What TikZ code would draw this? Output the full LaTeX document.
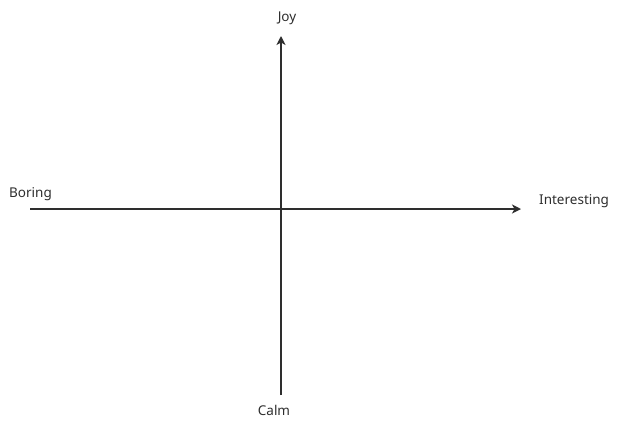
\documentclass[tikz,border=0pt]{standalone}
\usepackage{fontspec}
\setmainfont{Noto Sans}
\usetikzlibrary{arrows.meta}
\definecolor{axisgray}{HTML}{2E2E2E}
\begin{document}
\begin{tikzpicture}[x=1pt,y=-1pt,
  axis/.style={draw=axisgray,line width=1.4pt,-{Stealth[length=9pt,width=9pt,inset=2.5pt]}},
  lbl/.style={font=\fontsize{13.5}{15}\selectfont,text=axisgray,inner sep=0pt}]
\useasboundingbox (0,0) rectangle (619,429);
\fill[white] (0,0) rectangle (619,429);
\coordinate (vstart) at (281,395);
\coordinate (vend) at (281,36);
\coordinate (hstart) at (30,209);
\coordinate (hend) at (521,209);
\draw[axis] (vstart) -- (vend);
\draw[axis] (hstart) -- (hend);
\node[lbl] (joy) at (287,18) {Joy};
\node[lbl] (calm) at (274,410) {Calm};
\node[lbl,anchor=west] (boring) at (9,194) {Boring};
\node[lbl,anchor=west] (interesting) at (539,201) {Interesting};
\end{tikzpicture}
\end{document}
